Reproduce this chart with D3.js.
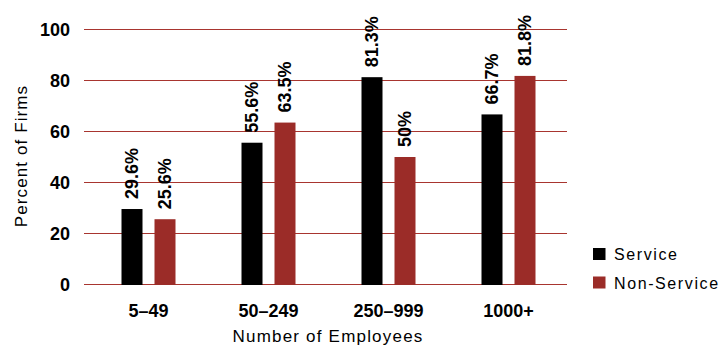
<!DOCTYPE html>
<html>
<head>
<meta charset="utf-8">
<script src="https://cdn.jsdelivr.net/npm/d3@7"></script>
<style>
  html, body { margin: 0; padding: 0; background: #fff; }
  svg { display: block; font-family: "Liberation Sans", Arial, sans-serif; }
</style>
</head>
<body>
<svg id="chart" width="723" height="349"></svg>
<script>
// Share of firms by company size, service vs. non-service
const categories = ["5–49", "50–249", "250–999", "1000+"];
const seriesNames = ["Service", "Non-Service"];
const serviceValues = [29.6, 55.6, 81.3, 66.7];
const nonServiceValues = [25.6, 63.5, 50, 81.8];
const valueLabels = [
  ["29.6%", "55.6%", "81.3%", "66.7%"],
  ["25.6%", "63.5%", "50%", "81.8%"]
];
const yTicks = [0, 20, 40, 60, 80, 100];
const seriesColors = ["#000000", "#9b2c28"];

const svg = d3.select("#chart");

const x = d3.scaleBand().domain(categories).range([88.5, 568.5]).paddingInner(0).paddingOuter(0);
const xInner = d3.scaleBand().domain(seriesNames).range([0, 54]).paddingInner(12 / 33).paddingOuter(0);
const y = d3.scaleLinear().domain([0, 100]).range([284.5, 29.5]);
const color = d3.scaleOrdinal().domain(seriesNames).range(seriesColors);

// Horizontal gridlines
svg.append("g")
  .selectAll("line")
  .data(yTicks)
  .join("line")
  .attr("x1", 84)
  .attr("x2", 567)
  .attr("y1", d => y(d))
  .attr("y2", d => y(d))
  .attr("stroke", "#a8352f")
  .attr("stroke-width", 1);

// Y axis tick labels
const yAxis = d3.axisLeft(y).tickValues(yTicks).tickSize(0).tickPadding(0);
const yG = svg.append("g").attr("transform", "translate(70,0)").call(yAxis);
yG.select(".domain").remove();
yG.selectAll("text")
  .attr("font-family", "'Liberation Sans', Arial, sans-serif")
  .attr("font-size", 18)
  .attr("font-weight", "bold")
  .attr("fill", "#000")
  .attr("dy", "0.36em");

// X axis category labels
const xAxis = d3.axisBottom(x).tickSize(0).tickPadding(0);
const xG = svg.append("g").attr("transform", "translate(0,304)").call(xAxis);
xG.select(".domain").remove();
xG.selectAll("text")
  .attr("font-family", "'Liberation Sans', Arial, sans-serif")
  .attr("font-size", 18)
  .attr("font-weight", "bold")
  .attr("fill", "#000")
  .attr("dy", "0.71em");

// Bars and value labels
const rows = categories.map((c, i) => ({
  category: c,
  items: [
    { series: seriesNames[0], value: serviceValues[i], label: valueLabels[0][i] },
    { series: seriesNames[1], value: nonServiceValues[i], label: valueLabels[1][i] }
  ]
}));

const groups = svg.append("g")
  .selectAll("g")
  .data(rows)
  .join("g")
  .attr("transform", d => `translate(${x(d.category) + (x.bandwidth() - 54) / 2},0)`);

groups.selectAll("rect")
  .data(d => d.items)
  .join("rect")
  .attr("x", d => xInner(d.series))
  .attr("width", xInner.bandwidth())
  .attr("y", d => y(d.value))
  .attr("height", d => y(0) - y(d.value) + 0.5)
  .attr("fill", d => color(d.series));

groups.selectAll("text")
  .data(d => d.items)
  .join("text")
  .attr("transform", d => `translate(${xInner(d.series) + xInner.bandwidth() / 2},${y(d.value) - 10}) rotate(-90)`)
  .attr("dy", "0.36em")
  .attr("font-size", 18)
  .attr("font-weight", "bold")
  .attr("fill", "#000")
  .text(d => d.label);

// Axis titles
svg.append("text")
  .attr("transform", "translate(21,156) rotate(-90)")
  .attr("text-anchor", "middle")
  .attr("dy", "0.36em")
  .attr("font-size", 17)
  .attr("letter-spacing", 1.1)
  .attr("fill", "#000")
  .text("Percent of Firms");

svg.append("text")
  .attr("x", 328)
  .attr("y", 342)
  .attr("text-anchor", "middle")
  .attr("font-size", 17)
  .attr("letter-spacing", 1.2)
  .attr("fill", "#000")
  .text("Number of Employees");

// Legend
const legend = svg.append("g")
  .selectAll("g")
  .data(seriesNames)
  .join("g")
  .attr("transform", (d, i) => `translate(593,${248 + i * 28.5})`);

legend.append("rect")
  .attr("width", 12.5)
  .attr("height", 12)
  .attr("fill", d => color(d));

legend.append("text")
  .attr("x", 21)
  .attr("y", 12)
  .attr("font-size", 16)
  .attr("letter-spacing", 1.6)
  .attr("fill", "#000")
  .text(d => d);
</script>
</body>
</html>
